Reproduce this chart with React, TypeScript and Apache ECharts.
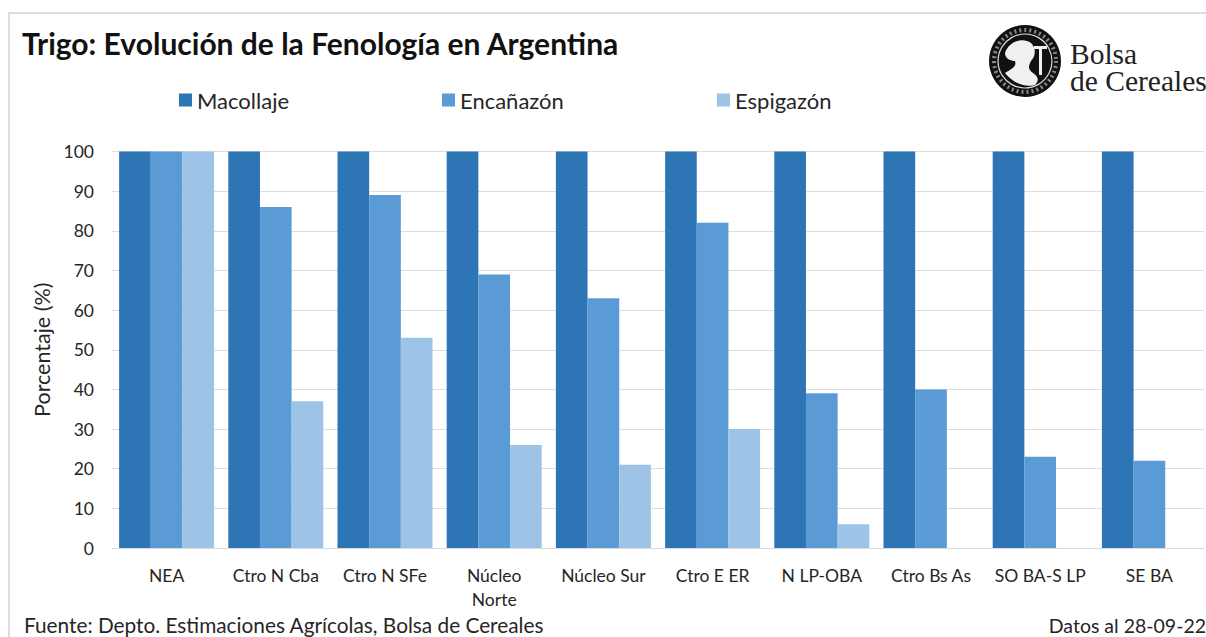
import React, { useEffect, useRef } from "react";
import * as echarts from "echarts";

const categories = ["NEA", "Ctro N Cba", "Ctro N SFe", "Núcleo\nNorte", "Núcleo Sur", "Ctro E ER", "N LP-OBA", "Ctro Bs As", "SO BA-S LP", "SE BA"];
const macollaje = [100, 100, 100, 100, 100, 100, 100, 100, 100, 100];
const encanazon = [100, 86, 89, 69, 63, 82, 39, 40, 23, 22];
const espigazon = [100, 37, 53, 26, 21, 30, 6, 0, 0, 0];
const seriesNames = ["Macollaje", "Encañazón", "Espigazón"];
const colors = ["#2E75B6", "#5B9BD5", "#9DC3E6"];
const FONT = "Lato, 'Open Sans', sans-serif";
const TEXT = "#262626";

const faceShape = "M-20 -8 C-16 -20 -2 -24 6 -18 C12 -12 10 -4 6 0 C4 4 2 8 8 12 C14 16 14 20 10 24 C0 27 -12 22 -20 12 C-14 8 -8 6 -10 0 C-14 0 -20 -2 -20 -8 Z";
echarts.graphic.registerShape("bolsaFace", (echarts.graphic as any).extendPath(faceShape, {}));

export default function App() {
  const ref = useRef<HTMLDivElement>(null);
  useEffect(() => {
    document.body.style.margin = "0";
    const chart = echarts.init(ref.current!, null, { renderer: "svg" });
    const legendLefts = [174, 437, 712];
    chart.setOption({
      animation: false,
      backgroundColor: "#fff",
      textStyle: { fontFamily: FONT },
      grid: { left: 112, right: 2, top: 151.5, bottom: 89, containLabel: false },
      legend: seriesNames.map((n, i) => ({
        data: [n],
        left: legendLefts[i],
        top: 84,
        itemWidth: 13,
        itemHeight: 13,
        itemGap: 6,
        icon: "rect",
        textStyle: { fontFamily: FONT, fontSize: 22, color: TEXT },
      })),
      xAxis: {
        type: "category",
        data: categories,
        axisTick: { show: false },
        axisLine: { show: true, lineStyle: { color: "#d9d9d9", width: 1 } },
        axisLabel: { fontFamily: FONT, fontSize: 17.5, color: TEXT, margin: 15, lineHeight: 24, interval: 0 },
      },
      yAxis: {
        type: "value",
        min: 0,
        max: 100,
        interval: 10,
        name: "Porcentaje (%)",
        nameLocation: "middle",
        nameGap: 59,
        nameRotate: 90,
        nameTextStyle: { fontFamily: FONT, fontSize: 21.5, color: TEXT },
        axisLine: { show: false },
        axisTick: { show: false },
        axisLabel: { fontFamily: FONT, fontSize: 17.5, color: TEXT, margin: 18 },
        splitLine: { show: true, lineStyle: { color: "#dedede", width: 1 } },
      },
      series: [macollaje, encanazon, espigazon].map((d, i) => ({
        name: seriesNames[i],
        type: "bar",
        data: d,
        barGap: "0%",
        barCategoryGap: "13%",
        itemStyle: { color: colors[i] },
      })),
      graphic: [
        { type: "rect", shape: { x: 8, y: 12, width: 1198, height: 2 }, style: { fill: "#dcdcdc" }, silent: true },
        { type: "rect", shape: { x: 8, y: 12, width: 2, height: 625 }, style: { fill: "#dcdcdc" }, silent: true },
        { type: "text", left: 22, top: 28, style: { text: "Trigo: Evolución de la Fenología en Argentina", fontFamily: FONT, fontWeight: "bold", fontSize: 30, fill: "#111" } },
        { type: "text", left: 24, top: 614, style: { text: "Fuente: Depto. Estimaciones Agrícolas, Bolsa de Cereales", fontFamily: FONT, fontSize: 20.8, fill: TEXT } },
        { type: "text", right: 0, top: 615, style: { text: "Datos al 28-09-22", fontFamily: FONT, fontSize: 19.5, fill: TEXT } },
        { type: "circle", shape: { cx: 1025, cy: 61, r: 36 }, style: { fill: "#111" } },
        { type: "circle", shape: { cx: 1025, cy: 61, r: 31 }, style: { fill: "none", stroke: "#888", lineWidth: 4, lineDash: [2, 3] } },
        { type: "circle", shape: { cx: 1025, cy: 61, r: 27 }, style: { fill: "none", stroke: "#ddd", lineWidth: 1.2 } },
        { type: "bolsaFace", x: 1025, y: 61, style: { fill: "#f0f0f0" } },
        { type: "rect", shape: { x: 1039, y: 47, width: 3, height: 28 }, style: { fill: "#f0f0f0" } },
        { type: "rect", shape: { x: 1034, y: 46, width: 13, height: 3 }, style: { fill: "#f0f0f0" } },
        { type: "text", left: 1070, top: 39, style: { text: "Bolsa\nde Cereales", fontFamily: "'Liberation Serif', serif", fontSize: 29.5, lineHeight: 27, fill: "#222" } },
      ],
    });
    return () => chart.dispose();
  }, []);
  return <div ref={ref} style={{ position: "absolute", left: 0, top: 0, width: 1206, height: 637 }} />;
}
